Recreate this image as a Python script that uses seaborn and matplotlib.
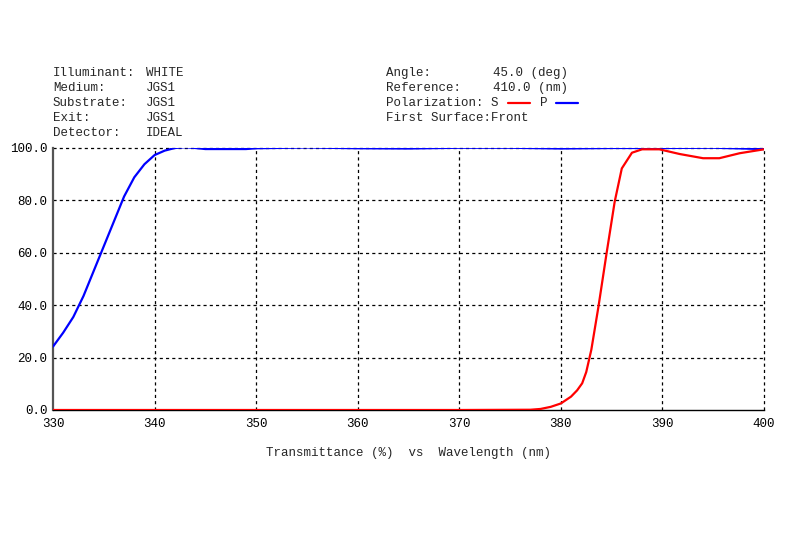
import matplotlib
matplotlib.use("Agg")
import matplotlib.pyplot as plt
import seaborn as sns
import pandas as pd
from matplotlib.lines import Line2D

# Data
p_wavelength = [330, 331, 332, 333, 334, 335, 336, 337, 338, 339, 340, 341, 342, 343,
                344, 345, 347, 349, 350, 355, 360, 365, 370, 375, 380, 385, 390, 395, 400]
p_trans = [24.2, 29.5, 35.5, 43.5, 53, 62.5, 72, 81.5, 88.8, 93.8, 97.3, 99.0, 100.0, 100.3,
           100, 99.6, 99.6, 99.6, 99.9, 100.2, 99.9, 99.8, 100.1, 100.1, 99.8, 100, 100, 100.1, 99.6]
s_wavelength = [330, 370, 377, 378, 379, 380, 381, 381.6, 382.1, 382.5, 383, 383.7, 384.5,
                385.3, 386, 387, 388, 389.7, 391.7, 394, 395.6, 397.6, 400]
s_trans = [0, 0, 0.1, 0.4, 1.2, 2.5, 5.1, 7.5, 10.2, 14.5, 23, 39.4, 59.8,
           79.5, 92.2, 98.2, 99.5, 99.5, 97.7, 96.1, 96.1, 98, 99.5]
x_ticks = [330, 340, 350, 360, 370, 380, 390, 400]
y_ticks = [0, 20, 40, 60, 80, 100]
header_left = [("Illuminant:", "WHITE"), ("Medium:", "JGS1"), ("Substrate:", "JGS1"),
               ("Exit:", "JGS1"), ("Detector:", "IDEAL")]
header_right = [("Angle:", "45.0 (deg)"), ("Reference:", "410.0 (nm)")]

sns.set_style("white")
plt.rcParams['font.family'] = ['Liberation Mono', 'DejaVu Sans Mono']
FS = 9

W, H = 800, 533
fig = plt.figure(figsize=(8, 5.33), dpi=100)
ax = fig.add_axes([53 / W, 1 - 410 / H, 711 / W, 262 / H])

df_p = pd.DataFrame({"wl": p_wavelength, "T": p_trans})
df_s = pd.DataFrame({"wl": s_wavelength, "T": s_trans})
sns.lineplot(data=df_p, x="wl", y="T", ax=ax, color="#0000ff", lw=1.6, sort=False, zorder=4)
sns.lineplot(data=df_s, x="wl", y="T", ax=ax, color="#ff0000", lw=1.6, sort=False, zorder=5)

ax.set_xlim(330, 400)
ax.set_ylim(0, 100)
ax.set_xticks(x_ticks)
ax.set_yticks(y_ticks)
ax.set_xticklabels([str(v) for v in x_ticks], fontsize=FS)
ax.set_yticklabels([f"{v:.1f}" for v in y_ticks], fontsize=FS)
ax.set_xlabel("Transmittance (%)  vs  Wavelength (nm)", fontsize=FS, labelpad=12)
ax.set_ylabel("")

for v in y_ticks[1:]:
    ax.axhline(v, color="black", lw=0.9, ls=(0, (2.5, 2.5)), zorder=1, clip_on=False)
for v in x_ticks[1:]:
    ax.axvline(v, color="black", lw=0.9, ls=(0, (2.5, 2.5)), zorder=1, clip_on=False)

for s in ["top", "right"]:
    ax.spines[s].set_visible(False)
ax.spines["left"].set_color("#555555")
ax.spines["left"].set_linewidth(1.6)
ax.spines["bottom"].set_color("black")
ax.spines["bottom"].set_linewidth(1.0)
ax.tick_params(axis="x", direction="in", length=4, width=1, pad=6, colors="black")
ax.tick_params(axis="y", direction="out", length=3, width=1, pad=1, colors="black")

# Header text
y0 = 73
for i, (k, v) in enumerate(header_left):
    y = 1 - (y0 + 15 * i) / H
    fig.text(53 / W, y, k, fontsize=FS, va="center", ha="left")
    fig.text(146 / W, y, v, fontsize=FS, va="center", ha="left")
for i, (k, v) in enumerate(header_right):
    y = 1 - (y0 + 15 * i) / H
    fig.text(386 / W, y, k, fontsize=FS, va="center", ha="left")
    fig.text(493 / W, y, v, fontsize=FS, va="center", ha="left")
y = 1 - (y0 + 30) / H
fig.text(386 / W, y, "Polarization: S", fontsize=FS, va="center", ha="left")
fig.add_artist(Line2D([508 / W, 530 / W], [y, y], color="#ff0000", lw=1.6))
fig.text(540 / W, y, "P", fontsize=FS, va="center", ha="left")
fig.add_artist(Line2D([556 / W, 578 / W], [y, y], color="#0000ff", lw=1.6))
y = 1 - (y0 + 45) / H
fig.text(386 / W, y, "First Surface:Front", fontsize=FS, va="center", ha="left")

fig.savefig("out.png", dpi=100, facecolor="white")
